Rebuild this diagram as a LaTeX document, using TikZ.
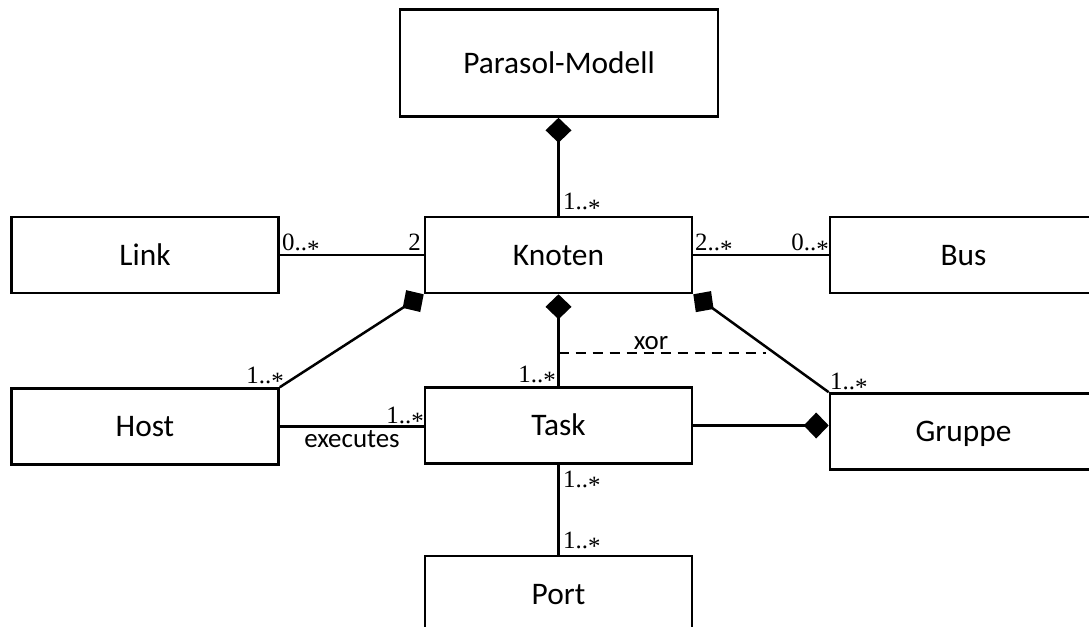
\documentclass[tikz,border=0pt]{standalone}
\usepackage[no-math]{fontspec}
\setmainfont{Carlito}
\newfontfamily\multfont{Liberation Serif}
\usetikzlibrary{arrows.meta}
% multiplicity text: serif digits with a lowered asterisk
\newcommand{\mstar}{\raisebox{-0.27em}{*}}
\begin{document}
\begin{tikzpicture}[x=1bp,y=-1bp,
  cls/.style={draw, line width=2.6bp, minimum width=267bp, minimum height=76bp,
    inner sep=0pt, text height=20.2bp, text depth=0pt,
    font=\fontsize{31.5}{38}\selectfont},
  conn/.style={line width=2.5bp},
  comp/.style={conn, {Diamond[length=25bp,width=26bp]}-},
  xorline/.style={line width=2.2bp, dash pattern=on 10bp off 7bp},
  mult/.style={inner sep=0pt, font=\multfont\fontsize{25}{30}\selectfont},
  lbl/.style={inner sep=0pt, font=\fontsize{27}{32}\selectfont}]

\useasboundingbox (0,0) rectangle (1089,627);
\clip (0,0) rectangle (1089,627);

% classes
\node[cls, minimum width=318bp, minimum height=107bp] (P) at (559,63) {Parasol-Modell};
\node[cls] (L)  at (145,255)    {Link};
\node[cls] (K)  at (558.5,255)  {Knoten};
\node[cls] (B)  at (963.5,255)  {Bus};
\node[cls] (H)  at (145,426.5)  {Host};
\node[cls] (T)  at (558.5,425.5){Task};
\node[cls] (G)  at (963.5,431.5){Gruppe};
\node[cls] (Po) at (558.5,594)  {Port};

% associations
\draw[comp] (K.north |- P.south) -- (K.north);
\draw[conn] (L.east) -- (K.west);
\draw[conn] (K.east) -- (B.west);
\draw[comp] (K.south) -- (T.north);
\draw[comp] (K.south west) -- (H.north east);
\draw[comp] (K.south east) -- (G.north west);
\draw[conn] (H.east) -- (H.east -| T.west);
\draw[comp] (G.west |- T.east) -- (T.east);
\draw[conn] (T.south) -- (Po.north);

% xor constraint
\coordinate (xorEnd) at (766,353);
\coordinate (xorStart) at (K.south |- xorEnd);
\draw[xorline] (xorStart) -- (xorEnd);
\node[lbl, anchor=base] (xorLbl) at (651,349) {xor};

% multiplicities
\node[mult, anchor=base west] (mPK) at (563,210) {1..\mstar};
\node[mult, anchor=base west] (mLK) at (282,251) {0..\mstar};
\node[mult, anchor=base east] (mKL) at (421,251) {2};
\node[mult, anchor=base west] (mKB) at (695,251) {2..\mstar};
\node[mult, anchor=base east] (mBK) at (829,251) {0..\mstar};
\node[mult, anchor=base east] (mH)  at (284,383) {1..\mstar};
\node[mult, anchor=base east] (mT)  at (556,382) {1..\mstar};
\node[mult, anchor=base east] (mHT) at (424,423) {1..\mstar};
\node[mult, anchor=base west] (mG)  at (830,389) {1..\mstar};
\node[mult, anchor=base west] (mTP) at (563,487) {1..\mstar};
\node[mult, anchor=base west] (mPo) at (563,548) {1..\mstar};

\node[lbl, anchor=base] (exec) at (352,447) {executes};
\end{tikzpicture}
\end{document}
